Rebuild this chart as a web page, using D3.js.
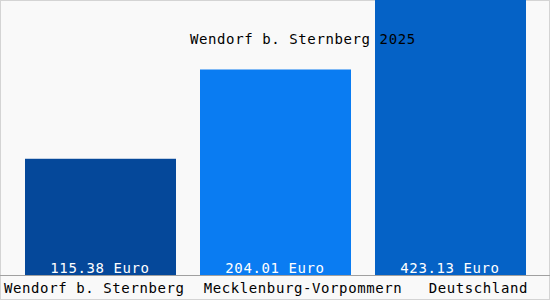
<!DOCTYPE html>
<html>
<head>
<meta charset="utf-8">
<script src="https://cdn.jsdelivr.net/npm/d3@7"></script>
<style>
  body { margin: 0; background: #fff; }
  svg text { font-family: "DejaVu Sans Mono", "Liberation Mono", monospace; font-size: 14px; letter-spacing: 0.6px; }
</style>
</head>
<body>
<svg id="chart" width="550" height="300"></svg>
<script>
const title = "Wendorf b. Sternberg 2025";
const categories = ["Wendorf b. Sternberg", "Mecklenburg-Vorpommern", "Deutschland"];
const values = [115.38, 204.01, 423.13];
const colors = ["#05489a", "#0a7cf2", "#0562c6"];

const width = 550, height = 300, baseline = 275;
const svg = d3.select("#chart");

svg.append("rect")
  .attr("x", 0.5).attr("y", 0.5)
  .attr("width", width - 1).attr("height", height - 1)
  .attr("fill", "#f9f9f9").attr("stroke", "#d4d4d4");

const x = d3.scaleBand()
  .domain(categories)
  .range([0, width])
  .paddingInner(25 / 175)
  .paddingOuter(25 / 175);

// scale ~1px per euro, tall bars just run off the top
const y = d3.scaleLinear().domain([0, 273]).range([baseline, 0]);

const data = categories.map((c, i) => ({ cat: c, value: values[i], color: colors[i] }));

const plot = svg.append("g");
plot.selectAll("rect.bar")
  .data(data)
  .join("rect")
  .attr("class", "bar")
  .attr("x", d => x(d.cat))
  .attr("width", x.bandwidth() + 1)
  .attr("y", d => Math.max(0, y(d.value)))
  .attr("height", d => baseline - Math.max(0, y(d.value)))
  .attr("fill", d => d.color);

plot.selectAll("text.val")
  .data(data)
  .join("text")
  .attr("class", "val")
  .attr("x", d => x(d.cat) + x.bandwidth() / 2)
  .attr("y", baseline - 2)
  .attr("text-anchor", "middle")
  .attr("fill", "#fff")
  .text(d => d3.format(".2f")(d.value) + " Euro");

// axis line
svg.append("line")
  .attr("x1", 0).attr("x2", width)
  .attr("y1", baseline + 0.5).attr("y2", baseline + 0.5)
  .attr("stroke", "#a0a0a0");

// category labels, spread across the bottom
const anchors = ["start", "middle", "end"];
const labelX = [
  d => x(d.cat) - 21,
  d => x(d.cat) + x.bandwidth() / 2 + 28,
  d => x(d.cat) + x.bandwidth() + 3
];
svg.selectAll("text.cat")
  .data(data)
  .join("text")
  .attr("class", "cat")
  .attr("x", (d, i) => labelX[i](d))
  .attr("y", 293)
  .attr("text-anchor", (d, i) => anchors[i])
  .attr("fill", "#000")
  .text(d => d.cat);

svg.append("text")
  .attr("x", 190)
  .attr("y", 44)
  .attr("fill", "#000")
  .text(title);
</script>
</body>
</html>
